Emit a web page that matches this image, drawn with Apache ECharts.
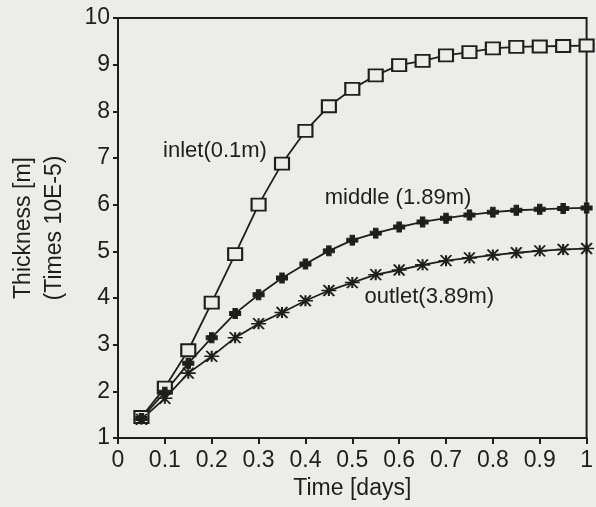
<!DOCTYPE html>
<html>
<head>
<meta charset="utf-8">
<script src="https://cdn.jsdelivr.net/npm/echarts@6/dist/echarts.min.js"></script>
<style>
  html, body { margin: 0; padding: 0; background: #ececea; }
  #chart { width: 596px; height: 507px; }
</style>
</head>
<body>
<div id="chart"></div>
<script>
// Film thickness over time at three positions along the channel
const timeDays = [0.05, 0.1, 0.15, 0.2, 0.25, 0.3, 0.35, 0.4, 0.45, 0.5,
                  0.55, 0.6, 0.65, 0.7, 0.75, 0.8, 0.85, 0.9, 0.95, 1.0];
const inletValues  = [1.45, 2.08, 2.88, 3.9, 4.94, 6.0, 6.88, 7.58, 8.11, 8.48,
                      8.77, 8.99, 9.08, 9.2, 9.27, 9.35, 9.38, 9.39, 9.4, 9.41];
const middleValues = [1.42, 1.98, 2.6, 3.15, 3.67, 4.07, 4.43, 4.73, 5.01, 5.24,
                      5.39, 5.52, 5.63, 5.71, 5.78, 5.84, 5.88, 5.9, 5.92, 5.93];
const outletValues = [1.4, 1.85, 2.39, 2.75, 3.15, 3.45, 3.69, 3.94, 4.16, 4.33,
                      4.5, 4.6, 4.71, 4.8, 4.86, 4.92, 4.97, 5.01, 5.04, 5.06];
const seriesNames  = ['inlet(0.1m)', 'middle (1.89m)', 'outlet(3.89m)'];
// where each curve's caption starts, in data units [time, thickness]
const captionAnchors = [[0.095, 7.15], [0.44, 6.15], [0.525, 4.02]];
const xTickLabels = ['0', '0.1', '0.2', '0.3', '0.4', '0.5', '0.6', '0.7', '0.8', '0.9', '1'];

const INK = '#1e1e1e';
const PAPER = '#ececea';
const FONT = '"Liberation Sans", Arial, Helvetica, sans-serif';

const chart = echarts.init(document.getElementById('chart'), null, { renderer: 'canvas' });

function pairs(vals) { return timeDays.map((t, i) => [t, vals[i]]); }

function caption(i) {
  return {
    symbol: 'circle',
    symbolSize: 1,
    silent: true,
    itemStyle: { color: 'rgba(0,0,0,0)' },
    data: [{
      coord: captionAnchors[i],
      label: {
        show: true,
        formatter: seriesNames[i],
        position: 'right',
        distance: 0,
        color: INK,
        fontFamily: FONT,
        fontSize: 22
      }
    }]
  };
}

const lineBase = {
  type: 'line',
  smooth: false,
  lineStyle: { color: INK, width: 1.8 },
  showAllSymbol: true,
  z: 3
};

chart.setOption({
  backgroundColor: PAPER,
  animation: false,
  grid: { left: 117, right: 7, top: 18, bottom: 69, show: true, borderColor: INK, borderWidth: 2, backgroundColor: 'transparent' },
  xAxis: {
    type: 'value',
    min: 0, max: 1, interval: 0.1,
    name: 'Time [days]',
    nameLocation: 'middle',
    nameGap: 38,
    nameTextStyle: { color: INK, fontFamily: FONT, fontSize: 23 },
    axisLine: { show: true, onZero: false, lineStyle: { color: INK, width: 2 } },
    axisTick: { show: true, inside: false, length: 6, lineStyle: { color: INK, width: 2 } },
    axisLabel: {
      color: INK, fontFamily: FONT, fontSize: 23, margin: 11,
      formatter: (v) => xTickLabels[Math.round(v * 10)]
    },
    splitLine: { show: false }
  },
  yAxis: {
    type: 'value',
    min: 1, max: 10, interval: 1,
    name: 'Thickness [m]\n(Times 10E-5)',
    nameLocation: 'middle',
    nameRotate: 90,
    nameGap: 48,
    nameTextStyle: { color: INK, fontFamily: FONT, fontSize: 23, lineHeight: 31 },
    axisLine: { show: true, onZero: false, lineStyle: { color: INK, width: 2 } },
    axisTick: { show: true, inside: false, length: 5, lineStyle: { color: INK, width: 2 } },
    axisLabel: { color: INK, fontFamily: FONT, fontSize: 23, margin: 8 },
    splitLine: { show: false }
  },
  series: [
    Object.assign({}, lineBase, {
      name: seriesNames[0],
      data: pairs(inletValues),
      symbol: 'rect',
      symbolSize: [14, 12],
      itemStyle: { color: PAPER, borderColor: INK, borderWidth: 2 },
      markPoint: caption(0)
    }),
    Object.assign({}, lineBase, {
      name: seriesNames[1],
      data: pairs(middleValues),
      symbol: 'path://M3,0H7V3H10V7H7V10H3V7H0V3H3Z',
      symbolSize: [11, 10],
      itemStyle: { color: INK, borderColor: INK, borderWidth: 1 },
      markPoint: caption(1)
    }),
    Object.assign({}, lineBase, {
      name: seriesNames[2],
      data: pairs(outletValues),
      symbol: 'path://M0,5L14,5M2,0L12,10M2,10L12,0M7,0L7,10',
      symbolSize: [15, 11],
      itemStyle: { color: 'none', borderColor: INK, borderWidth: 1.8 },
      markPoint: caption(2)
    })
  ]
});
</script>
</body>
</html>
